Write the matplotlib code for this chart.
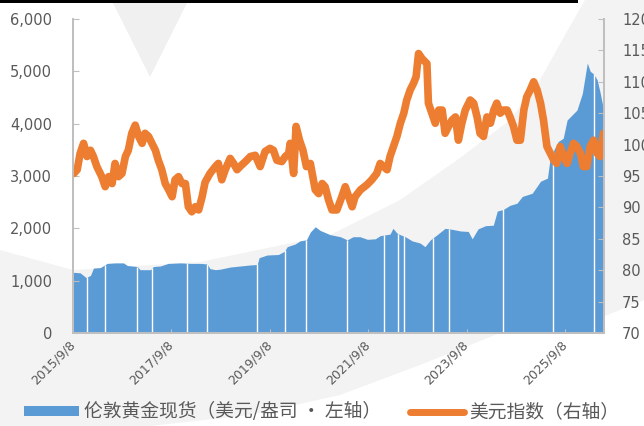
import numpy as np
import matplotlib.pyplot as plt
from matplotlib.patches import Polygon, Rectangle, Patch
from matplotlib.lines import Line2D
from matplotlib.transforms import ScaledTranslation

plt.rcParams['font.family'] = ['DejaVu Sans', 'Noto Sans CJK SC']

# London spot gold, USD/oz (x = decimal year)
gold_year = [2015.69, 2015.83, 2015.95, 2016.04, 2016.10, 2016.24, 2016.38, 2016.54,
             2016.71, 2016.79, 2016.99, 2017.05, 2017.26, 2017.32, 2017.46, 2017.62,
             2017.87, 2018.07, 2018.27, 2018.41, 2018.47, 2018.58, 2018.68, 2018.88,
             2019.08, 2019.29, 2019.43, 2019.47, 2019.63, 2019.86, 2019.98, 2020.04,
             2020.20, 2020.30, 2020.43, 2020.51, 2020.61, 2020.71, 2020.91, 2021.12,
             2021.26, 2021.38, 2021.52, 2021.67, 2021.83, 2021.93, 2022.13, 2022.19,
             2022.28, 2022.44, 2022.58, 2022.74, 2022.84, 2022.95, 2023.09, 2023.25,
             2023.40, 2023.56, 2023.72, 2023.80, 2023.92, 2024.07, 2024.23, 2024.31,
             2024.43, 2024.57, 2024.71, 2024.82, 2025.02, 2025.19, 2025.33, 2025.39,
             2025.55, 2025.65, 2025.73, 2025.93, 2026.04, 2026.14, 2026.20, 2026.27,
             2026.34, 2026.40, 2026.47]
gold_price = [1160, 1150, 1060, 1100, 1240, 1250, 1330, 1340,
              1340, 1290, 1270, 1210, 1210, 1270, 1280, 1330,
              1340, 1330, 1330, 1320, 1230, 1210, 1220, 1260,
              1280, 1300, 1310, 1440, 1490, 1500, 1560, 1650,
              1700, 1760, 1780, 1930, 2030, 1960, 1880, 1840,
              1780, 1840, 1840, 1790, 1800, 1860, 1890, 2000,
              1900, 1840, 1760, 1720, 1650, 1780, 1880, 2000,
              1980, 1950, 1940, 1800, 1990, 2050, 2060, 2330,
              2360, 2440, 2480, 2610, 2670, 2900, 2960, 3370,
              3660, 3720, 4070, 4260, 4580, 5160, 5000, 4950,
              4840, 4600, 4270]

# days without a gold quote (white gaps in the columns)
gap_year = [2015.97, 2016.34, 2016.99, 2017.30, 2018.01, 2018.41, 2019.43, 2020.00,
            2020.43, 2021.26, 2022.01, 2022.30, 2022.42, 2023.01, 2023.33, 2024.43,
            2025.45, 2026.27]

# US dollar index
dxy_year = [2015.70, 2015.77, 2015.83, 2015.90, 2015.97, 2016.04, 2016.10, 2016.17,
            2016.27, 2016.34, 2016.41, 2016.48, 2016.54, 2016.61, 2016.68, 2016.75,
            2016.81, 2016.88, 2016.95, 2017.02, 2017.09, 2017.15, 2017.22, 2017.29,
            2017.36, 2017.42, 2017.49, 2017.56, 2017.63, 2017.70, 2017.76, 2017.83,
            2017.90, 2017.97, 2018.03, 2018.10, 2018.17, 2018.24, 2018.31, 2018.37,
            2018.47, 2018.58, 2018.64, 2018.71, 2018.78, 2018.88, 2018.95, 2019.02,
            2019.08, 2019.19, 2019.29, 2019.39, 2019.49, 2019.59, 2019.69, 2019.76,
            2019.83, 2019.93, 2020.00, 2020.07, 2020.10, 2020.17, 2020.22, 2020.29,
            2020.36, 2020.43, 2020.51, 2020.61, 2020.68, 2020.75, 2020.81, 2020.88,
            2020.95, 2021.05, 2021.15, 2021.22, 2021.29, 2021.36, 2021.42, 2021.53,
            2021.66, 2021.76, 2021.86, 2021.93, 2022.00, 2022.07, 2022.13, 2022.20,
            2022.27, 2022.34, 2022.41, 2022.47, 2022.54, 2022.61, 2022.66, 2022.71,
            2022.78, 2022.88, 2022.91, 2022.98, 2023.05, 2023.12, 2023.19, 2023.25,
            2023.32, 2023.39, 2023.46, 2023.52, 2023.59, 2023.66, 2023.73, 2023.76,
            2023.83, 2023.90, 2023.96, 2024.03, 2024.10, 2024.17, 2024.24, 2024.30,
            2024.37, 2024.44, 2024.51, 2024.57, 2024.64, 2024.71, 2024.78, 2024.85,
            2024.91, 2024.98, 2025.05, 2025.12, 2025.19, 2025.25, 2025.32, 2025.39,
            2025.46, 2025.52, 2025.59, 2025.66, 2025.73, 2025.79, 2025.86, 2025.93,
            2026.00, 2026.06, 2026.13, 2026.20, 2026.27, 2026.34, 2026.40, 2026.47]
dxy_value = [95.4, 96.0, 98.6, 100.2, 98.1, 99.1, 98.1, 96.5,
             94.9, 93.3, 94.9, 93.8, 97.0, 94.9, 95.4, 98.1,
             99.1, 101.8, 103.1, 101.3, 100.2, 101.8, 101.3, 100.2,
             99.1, 97.5, 96.0, 93.8, 92.8, 91.7, 94.4, 94.9,
             93.8, 93.8, 90.1, 89.3, 90.1, 89.6, 91.7, 94.0,
             95.4, 96.5, 97.0, 94.4, 96.0, 97.8, 97.0, 96.0,
             96.5, 97.3, 98.1, 98.3, 96.5, 98.9, 99.4, 99.1,
             97.5, 97.3, 98.1, 98.6, 100.2, 95.4, 102.9, 100.7,
             99.1, 96.5, 97.0, 92.8, 92.2, 93.8, 93.3, 91.2,
             89.6, 89.6, 91.7, 93.3, 91.7, 90.1, 91.7, 92.8,
             93.6, 94.4, 95.4, 97.0, 96.5, 96.0, 98.1, 99.7,
             101.3, 103.4, 105.0, 107.1, 108.7, 109.8, 110.8, 114.5,
             113.7, 112.9, 106.6, 105.0, 103.4, 105.5, 105.5, 101.8,
             102.9, 103.9, 104.4, 100.7, 103.4, 105.5, 106.6, 107.1,
             106.6, 104.4, 101.8, 101.3, 104.4, 103.4, 105.5, 106.6,
             105.0, 105.5, 105.5, 104.4, 102.9, 100.7, 100.7, 105.5,
             107.6, 108.7, 110.0, 108.7, 106.6, 103.9, 99.7, 98.6,
             97.5, 97.0, 99.7, 98.1, 97.0, 98.6, 100.2, 99.7,
             98.6, 96.5, 96.5, 99.7, 100.7, 98.6, 98.1, 101.8]

tick_year = [2015.685, 2017.685, 2019.685, 2021.685, 2023.685, 2025.685]
tick_text = ["2015/9/8", "2017/9/8", "2019/9/8", "2021/9/8", "2023/9/8", "2025/9/8"]

BLUE = '#5B9BD5'
ORANGE = '#ED7D31'
AXIS = '#BFBFBF'
TEXT = '#595959'
W, H = 644, 426


def fp(pts):
    # pixel (y down) -> figure fraction
    return [(x / W, 1 - y / H) for x, y in pts]


fig = plt.figure(figsize=(W / 100, H / 100), dpi=100)

# light grey watermark swoosh behind the chart
band = [(0, 250), (73, 270), (200, 262), (330, 235), (400, 200), (460, 158),
        (510, 120), (540, 80), (565, 35), (585, 0), (644, 0), (644, 300),
        (600, 318), (500, 333), (420, 365), (340, 395), (250, 415), (150, 426),
        (0, 426)]
fig.add_artist(Polygon(fp(band), closed=True, transform=fig.transFigure,
                       facecolor='#F3F3F3', edgecolor='none', zorder=-5))
fig.add_artist(Polygon(fp([(113, 3), (187, 3), (150, 77)]), closed=True,
                       transform=fig.transFigure, facecolor='#F0F0F0',
                       edgecolor='none', zorder=-5))
fig.add_artist(Rectangle((0, 1 - 3 / H), 578 / W, 3 / H, transform=fig.transFigure,
                         facecolor='black', edgecolor='none', zorder=-4))

ax = fig.add_axes([73 / W, 1 - 333 / H, (604 - 73) / W, (333 - 19) / H])
ax.patch.set_visible(False)

ax.fill_between(gold_year, gold_price, color=BLUE, lw=0)
gap_top = np.interp(gap_year, gold_year, gold_price)
ax.vlines(gap_year, 0, gap_top, color='white', lw=1.0)

ax.set_xlim(2015.685, 2026.48)
ax.set_ylim(0, 6000)
ax.set_yticks(range(0, 6001, 1000), [f"{v:,}" for v in range(0, 6001, 1000)])
ax.set_xticks(tick_year, tick_text, rotation=45, ha='right', va='center',
              rotation_mode='anchor')
# nudge rotated date labels a little to the right, as in the original
shift = ScaledTranslation(5 / 100, 0, fig.dpi_scale_trans)
for lab in ax.get_xticklabels():
    lab.set_transform(lab.get_transform() + shift)

ax2 = ax.twinx()
ax2.plot(dxy_year, dxy_value, color=ORANGE, lw=5.5,
         solid_joinstyle='round', solid_capstyle='round')
ax2.set_ylim(70, 120)
ax2.set_yticks(range(70, 121, 5))

for a in (ax, ax2):
    a.spines['top'].set_visible(False)
    for s in ('left', 'right', 'bottom'):
        a.spines[s].set_color(AXIS)
        a.spines[s].set_linewidth(1.3)

ax.tick_params(axis='y', direction='in', length=4, color=AXIS, labelcolor=TEXT,
               labelsize=10.5, pad=15)
ax.tick_params(axis='x', direction='in', length=3, color=AXIS, labelcolor=TEXT,
               labelsize=9, pad=7)
ax2.tick_params(axis='y', direction='in', length=4, color=AXIS, labelcolor=TEXT,
                labelsize=10.5, pad=13)

handles = [Patch(facecolor=BLUE, edgecolor='none'),
           Line2D([], [], color=ORANGE, lw=5, solid_capstyle='round')]
labels = ["伦敦黄金现货（美元/盎司 · 左轴）", "美元指数（右轴）"]
fig.legend(handles, labels, loc='center', bbox_to_anchor=(322 / W, 1 - 412 / H),
           ncol=2, frameon=False, handlelength=2.9, handleheight=0.45,
           handletextpad=0.3, columnspacing=1.5, labelcolor=TEXT,
           prop={'family': ['Noto Sans CJK SC'], 'size': 13.5})

fig.savefig('out.png', dpi=100)
